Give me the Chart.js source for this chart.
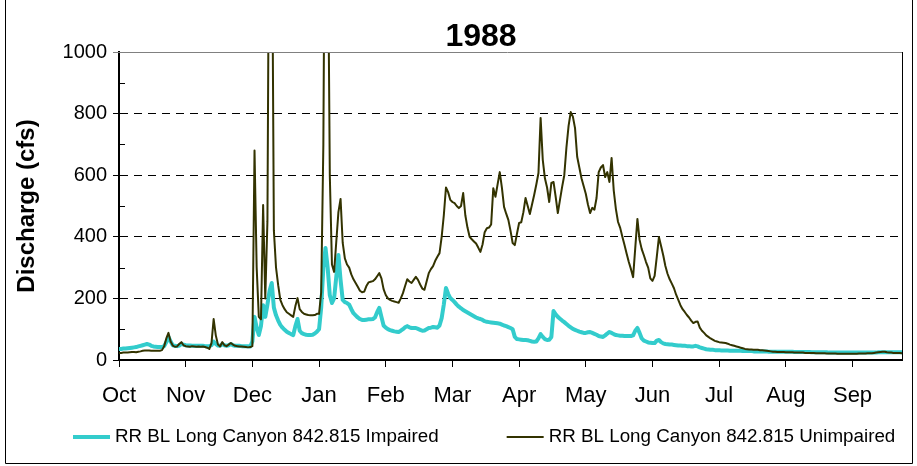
<!DOCTYPE html>
<html>
<head>
<meta charset="utf-8">
<title>1988 Discharge</title>
<script src="https://cdn.jsdelivr.net/npm/chart.js@4.4.1/dist/chart.umd.min.js"></script>
<style>
    body { margin: 0; background: #fff; }
    #wrap { width: 917px; height: 466px; }
</style>
</head>
<body>
<div id="wrap"><canvas id="dischargeChart" width="917" height="466"></canvas></div>
<script>
// Chart title and axis labels
const chartTitle = '1988';
const yTitle = 'Discharge (cfs)';
const monthLabels = ['Oct', 'Nov', 'Dec', 'Jan', 'Feb', 'Mar', 'Apr', 'May', 'Jun', 'Jul', 'Aug', 'Sep'];
// day index where each month tick sits (ticks every 31 days)
const monthStarts = [0, 31, 62, 93, 124, 155, 186, 217, 248, 279, 310, 341];
const yTicks = [0, 200, 400, 600, 800, 1000];
const yMinorTicks = [100, 300, 500, 700, 900];

const impairedLabel = 'RR BL Long Canyon 842.815 Impaired';
const unimpairedLabel = 'RR BL Long Canyon 842.815 Unimpaired';

// Daily flow, cfs (one row per month)
const impaired = [
    36, 36, 37, 37, 38, 39, 40, 41, 42, 44, 46, 48, 50, 52, 50, 46, 44, 43, 42, 42, 42, 45, 58, 75, 60, 48, 46, 45, 47, 52, 50,
    48, 47, 47, 46, 46, 46, 46, 46, 46, 45, 45, 45, 48, 60, 52, 47, 46, 52, 48, 46, 48, 52, 48, 46, 46, 46, 45, 45, 45, 45, 44,
    60, 140, 105, 81, 110, 178, 140, 180, 225, 250, 170, 145, 128, 114, 105, 98, 92, 88, 84, 81, 110, 133, 95, 87, 84, 82, 81, 81, 82, 86, 92,
    100, 170, 300, 364, 300, 210, 185, 200, 270, 341, 260, 195, 188, 185, 180, 165, 152, 145, 138, 133, 130, 130, 131, 132, 132, 133, 138, 155, 169, 140, 112,
    105, 100, 97, 95, 93, 92, 91, 95, 100, 106, 110, 106, 104, 104, 104, 101, 98, 95, 96, 100, 104, 105, 107, 106, 105, 112, 136, 180, 234, 215, 201,
    195, 188, 180, 173, 168, 162, 158, 154, 150, 146, 142, 138, 135, 133, 130, 126, 124, 123, 122, 121, 120, 119, 118, 115, 112, 110, 107, 104, 100, 75, 68,
    67, 66, 65, 65, 64, 62, 60, 59, 60, 70, 84, 75, 68, 65, 66, 75, 159, 148, 140, 134, 128, 123, 117, 111, 106, 101, 98, 95, 92, 90, 88,
    88, 90, 91, 88, 85, 82, 78, 76, 75, 80, 86, 91, 88, 84, 81, 80, 79, 79, 78, 78, 78, 78, 80, 95, 104, 88, 70, 63, 60, 57, 56,
    55, 55, 63, 65, 58, 54, 52, 51, 50, 50, 49, 48, 47, 47, 46, 46, 45, 45, 44, 44, 46, 44, 41, 39, 37, 35, 34, 33, 33, 32, 32,
    32, 31, 31, 31, 31, 30, 30, 30, 30, 30, 30, 29, 29, 29, 29, 29, 28, 28, 28, 28, 28, 28, 28, 27, 27, 27, 27, 27, 27, 27, 27,
    27, 27, 27, 27, 26, 26, 26, 26, 26, 26, 26, 26, 25, 25, 25, 25, 25, 25, 25, 25, 24, 24, 24, 24, 24, 24, 24, 24, 24, 24, 24,
    24, 24, 24, 24, 24, 24, 24, 24, 24, 24, 24, 24, 25, 25, 25, 25, 25, 25, 25, 25, 25, 25, 25, 25
];

const unimpaired = [
    23, 23, 24, 24, 24, 25, 26, 26, 25, 27, 28, 30, 31, 31, 31, 30, 30, 30, 30, 30, 32, 45, 70, 88, 60, 47, 43, 44, 52, 58, 48,
    45, 44, 43, 45, 44, 43, 44, 43, 44, 42, 40, 36, 55, 133, 80, 50, 44, 58, 48, 45, 50, 55, 50, 46, 45, 44, 44, 43, 42, 41, 42,
    45, 680, 300, 140, 132, 503, 200, 450, 1800, 1600, 420, 300, 243, 195, 178, 165, 155, 150, 145, 140, 175, 201, 165, 156, 150, 148, 146, 145, 145, 146, 150,
    150, 220, 700, 1900, 1500, 600, 310, 286, 383, 480, 523, 380, 330, 310, 300, 278, 262, 250, 238, 225, 220, 222, 240, 252, 254, 256, 262, 272, 282, 265, 230,
    211, 200, 195, 192, 190, 188, 186, 200, 217, 240, 262, 255, 250, 260, 270, 260, 245, 232, 228, 255, 282, 295, 305, 322, 335, 347, 400, 470, 560, 545, 520,
    513, 509, 500, 493, 500, 542, 470, 430, 400, 392, 385, 378, 365, 351, 375, 415, 428, 430, 440, 558, 530, 570, 610, 560, 497, 475, 455, 420, 380, 373, 410,
    445, 447, 480, 526, 500, 474, 505, 536, 570, 607, 786, 650, 590, 560, 513, 575, 578, 530, 477, 520, 562, 600, 690, 760, 805, 790, 753, 660, 625, 590, 565,
    540, 505, 477, 494, 488, 526, 610, 625, 633, 594, 610, 578, 656, 550, 490, 448, 429, 400, 373, 345, 318, 295, 269, 364, 458, 390, 360, 340, 318, 300, 265,
    257, 273, 335, 399, 370, 340, 305, 280, 262, 248, 233, 212, 195, 178, 165, 156, 146, 138, 128, 120, 124, 125, 105, 95, 88, 80, 75, 70, 66, 62, 60,
    58, 57, 56, 55, 53, 50, 48, 46, 44, 42, 40, 38, 36, 35, 34, 34, 33, 33, 33, 32, 32, 31, 30, 29, 28, 27, 27, 26, 26, 26, 26,
    25, 25, 25, 25, 24, 24, 24, 24, 24, 23, 23, 23, 23, 23, 22, 22, 22, 22, 22, 21, 21, 21, 21, 21, 20, 20, 20, 20, 20, 20, 20,
    20, 20, 20, 21, 21, 21, 21, 22, 22, 22, 23, 24, 25, 26, 27, 27, 25, 24, 24, 23, 23, 23, 23, 22
];

const FONT = '"Liberation Sans", Arial, sans-serif';
const CYAN = '#33CCCC';
const OLIVE = '#333300';

// turn a daily array into {x: day, y: cfs} points for the linear x scale
function toPoints(values) {
    return values.map((v, i) => ({ x: i, y: v }));
}

// Minor y ticks, plot frame and outer chart border
const frameLines = {
    id: 'frameLines',
    afterDraw(chart) {
        const { ctx, chartArea: a, scales: { y } } = chart;
        ctx.save();
        ctx.lineWidth = 1;

        // minor ticks point into the plot
        ctx.strokeStyle = '#000';
        ctx.beginPath();
        yMinorTicks.forEach(v => {
            const py = Math.round(y.getPixelForValue(v)) + 0.5;
            ctx.moveTo(a.left, py);
            ctx.lineTo(a.left + 6, py);
        });
        ctx.stroke();

        // top edge (grey) and right edge of the plot area
        ctx.strokeStyle = '#808080';
        ctx.beginPath();
        ctx.moveTo(a.left - 6, a.top + 0.5);
        ctx.lineTo(a.right, a.top + 0.5);
        ctx.stroke();
        ctx.strokeStyle = '#000';
        ctx.beginPath();
        ctx.moveTo(a.right + 0.5, a.top);
        ctx.lineTo(a.right + 0.5, a.bottom);
        ctx.stroke();

        // outer border of the chart
        ctx.beginPath();
        ctx.moveTo(5.5, 0);
        ctx.lineTo(5.5, 463.5);
        ctx.lineTo(912.5, 463.5);
        ctx.lineTo(912.5, 0);
        ctx.stroke();
        ctx.restore();
    }
};

// Legend drawn as one row below the axis
const lineLegend = {
    id: 'lineLegend',
    afterDraw(chart) {
        const { ctx } = chart;
        const y = 437;
        let x = 73;
        ctx.save();
        ctx.font = '18.8px ' + FONT;
        ctx.textBaseline = 'middle';
        ctx.fillStyle = '#000';
        chart.data.datasets.forEach(ds => {
            ctx.strokeStyle = ds.borderColor;
            ctx.lineWidth = ds.borderWidth;
            ctx.beginPath();
            ctx.moveTo(x, y);
            ctx.lineTo(x + 37, y);
            ctx.stroke();
            ctx.fillText(ds.label, x + 42, y);
            x += 42 + ctx.measureText(ds.label).width + 68;
        });
        ctx.restore();
    }
};

const ctx = document.getElementById('dischargeChart').getContext('2d');
const dischargeChart = new Chart(ctx, {
    type: 'line',
    data: {
        datasets: [{
            label: impairedLabel,
            data: toPoints(impaired),
            borderColor: CYAN,
            borderWidth: 4,
            order: 2
        }, {
            label: unimpairedLabel,
            data: toPoints(unimpaired),
            borderColor: OLIVE,
            borderWidth: 2,
            order: 1
        }]
    },
    options: {
        responsive: false,
        animation: false,
        devicePixelRatio: 1,
        layout: { padding: { left: 60, right: 15, top: 0, bottom: 56 } },
        elements: {
            point: { radius: 0 },
            line: { tension: 0, borderJoinStyle: 'round', borderCapStyle: 'round' }
        },
        plugins: {
            legend: { display: false },
            tooltip: { enabled: false },
            title: {
                display: true,
                text: chartTitle,
                color: '#000',
                font: { family: FONT, size: 32, weight: 'bold', lineHeight: 1 },
                padding: { top: 21, bottom: -1 }
            }
        },
        scales: {
            x: {
                type: 'linear',
                min: 0,
                max: impaired.length - 1,
                afterBuildTicks: scale => { scale.ticks = monthStarts.map(v => ({ value: v })); },
                afterFit: scale => { scale.height = 50; },
                ticks: {
                    autoSkip: false,
                    maxRotation: 0,
                    color: '#000',
                    padding: 16,
                    font: { family: FONT, size: 22 },
                    callback: (value, index) => monthLabels[index]
                },
                grid: { drawOnChartArea: false, color: '#000', tickLength: 7 },
                border: { color: '#000', width: 2 }
            },
            y: {
                min: 0,
                max: 1000,
                afterBuildTicks: scale => { scale.ticks = yTicks.map(v => ({ value: v })); },
                afterFit: scale => { scale.width = 59; },
                ticks: {
                    color: '#000',
                    padding: 6,
                    font: { family: FONT, size: 20 },
                    callback: value => String(value)
                },
                grid: {
                    color: c => (c.tick && c.tick.value > 0 && c.tick.value < 1000) ? '#000' : 'rgba(0,0,0,0)',
                    tickColor: '#000',
                    tickLength: 6,
                    lineWidth: 1
                },
                border: { color: '#000', width: 2, dash: [8, 6] },
                title: {
                    display: true,
                    text: yTitle,
                    color: '#000',
                    font: { family: FONT, size: 24, weight: 'bold' },
                    padding: { top: -47, bottom: 0 }
                }
            }
        }
    },
    plugins: [frameLines, lineLegend]
});
</script>
</body>
</html>
